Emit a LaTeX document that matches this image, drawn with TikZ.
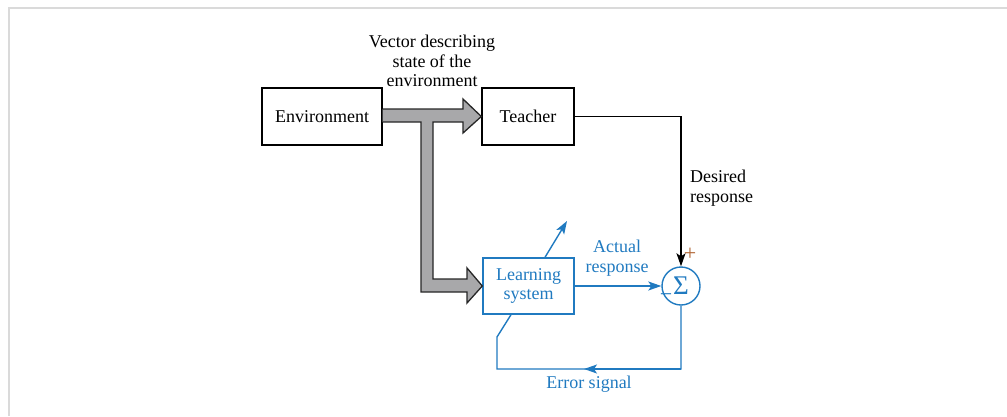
\documentclass[tikz,border=0pt]{standalone}
\usepackage{fontspec}
\setmainfont{Liberation Serif}
\usetikzlibrary{arrows.meta}
\definecolor{lblue}{RGB}{32,122,192}
\definecolor{plusor}{RGB}{176,100,50}
\definecolor{framegray}{RGB}{218,218,218}
\definecolor{bigarrow}{RGB}{168,168,170}
\tikzset{
  txt/.style={font=\fontsize{18}{19.8}\selectfont, inner sep=0pt, align=center},
  blackbox/.style={draw=black, line width=1.4pt, txt},
  bluebox/.style={draw=lblue, line width=1.4pt, txt, text=lblue},
  sig/.style={line width=1.4pt, -{Stealth[length=13pt,width=9pt,inset=3pt]}},
}
\begin{document}
\begin{tikzpicture}[x=1pt,y=-1pt]
\useasboundingbox (0,0) rectangle (1007,416);
% frame
\draw[framegray, line width=2pt] (9,416) -- (9,8) -- (1007,8);

% boxes
\node[blackbox, minimum width=120pt, minimum height=57pt] (env) at (322,116.5) {Environment};
\node[blackbox, minimum width=92pt, minimum height=57pt] (teach) at (528,116.5) {Teacher};
\node[bluebox, minimum width=91pt, minimum height=56pt] (learn) at (528.5,286) {Learning\\system};
\node[draw=lblue, line width=1.4pt, circle, minimum size=38pt, inner sep=0pt, text=lblue,
      font=\fontsize{27}{27}\selectfont] (sum) at (681,286) {Σ};

% big gray T-arrow
\filldraw[fill=bigarrow, draw=black!85, line width=1.3pt, line join=miter]
  (env.east |- 0,109) -- (463,109) -- (463,99) -- (teach.west) -- (463,133) -- (463,122)
  -- (433,122) -- (433,279) -- (467,279) -- (467,268) -- (learn.west) -- (467,303) -- (467,292)
  -- (421,292) -- (421,122) -- (env.east |- 0,122);

% desired response
\draw[sig, black] (teach.east) -| (sum.north);
\node[txt, anchor=west, align=left] (desired) at (690,188) {Desired\\response};
\node[txt, text=plusor, font=\fontsize{22}{22}\selectfont] (plus) at (690,254) {+};

% actual response
\draw[sig, lblue] (learn.east) -- (sum.west);
\node[txt, text=lblue] (actual) at (617,258) {Actual\\response};
\node[txt, text=lblue, font=\fontsize{22}{22}\selectfont] (minus) at (666,298) {−};

% adjustment arrow
\coordinate (adj) at (567,221);
\draw[sig, lblue] ([xshift=16.5pt]learn.north) -- (adj);

% error signal loop
\coordinate (ebr) at (681,369);
\coordinate (ebl) at (497,369);
\coordinate (ebu) at (497,337);
\coordinate (emid) at (584,369);
\draw[lblue, line width=1.4pt, line join=miter] (sum.south) -- (ebr) -- (ebl) -- (ebu) -- ([xshift=-17.5pt]learn.south);
\draw[sig, lblue] (ebr) -- (emid);
\node[txt, text=lblue] (err) at (589,384) {Error signal};

% vector label
\node[txt] (vec) at (432,61) {Vector describing\\state of the\\environment};
\end{tikzpicture}
\end{document}
